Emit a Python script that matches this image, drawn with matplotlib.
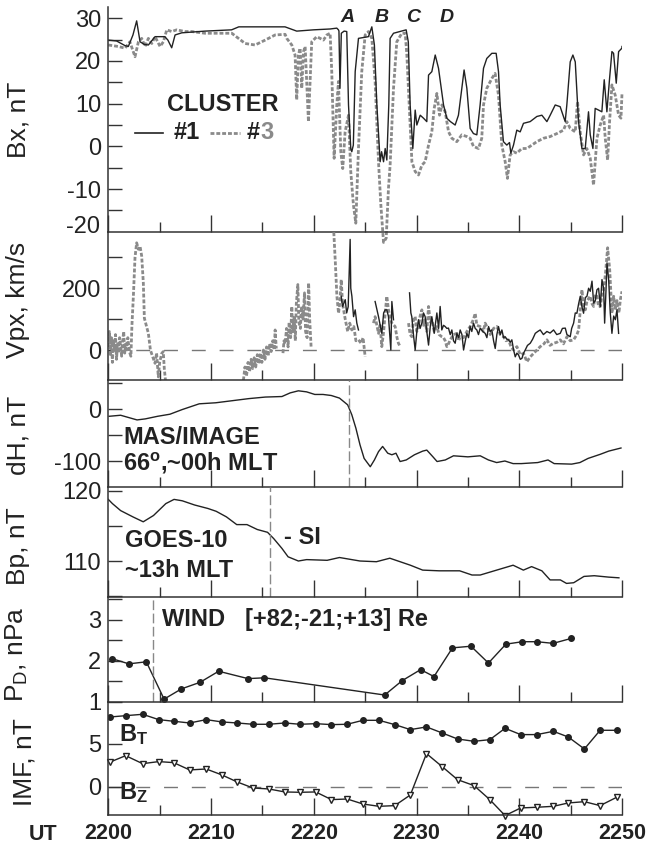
import numpy as np
import matplotlib
matplotlib.use("Agg")
import matplotlib.pyplot as plt

plt.rcParams['font.family'] = ['Liberation Sans', 'DejaVu Sans']
plt.rcParams['mathtext.fontset'] = 'custom'
plt.rcParams['mathtext.rm'] = 'Liberation Sans'
plt.rcParams['mathtext.bf'] = 'Liberation Sans:bold'
plt.rcParams['mathtext.it'] = 'Liberation Sans:italic'

nan = np.nan

# ---- CLUSTER Bx (minutes after 2200 UT) ----
bx1_t = [0.0, 0.8, 1.63, 1.95, 2.4, 2.76, 3.09, 3.5, 3.9, 4.55, 5.5, 5.8, 6.17, 6.5, 7.15, 9.4, 12.0, 12.7,
         17.2, 18.34, 19.97, 21.59, 22.24, 22.4, 22.45, 22.55, 22.68, 22.95, 23.21, 23.38, 23.6, 23.7, 23.85,
         24.03, 24.35, 25.32, 25.65, 25.9, 26.14, 26.46, 26.6, 26.79, 26.95, 27.11, 27.3, 27.43, 27.76, 28.99,
         29.2, 29.38, 29.64, 29.87, 30.03, 30.36, 30.68, 31.0, 31.17, 31.49, 31.82, 32.14, 32.63, 32.95, 33.3,
         33.76, 34.08, 34.41, 34.63, 34.9, 35.22, 35.54, 35.87, 36.19, 36.52, 36.84, 37.33, 37.75, 37.98, 38.14,
         38.46, 38.79, 39.05, 39.18, 39.44, 39.76, 40.09, 40.41, 41.06, 41.71, 42.2, 42.69, 43.01, 43.5, 43.98,
         44.47, 44.63, 44.96, 45.22, 45.45, 45.77, 46.1, 46.42, 46.74, 46.91, 47.17, 47.39, 47.72, 48.04, 48.27,
         48.53, 48.79, 49.02, 49.18, 49.44, 49.67, 49.99, 50.0]
bx1_v = [24.9, 24.7, 23.6, 23.4, 26.1, 29.4, 24.5, 23.9, 23.75, 25.7, 25.7, 24.9, 23.1, 26.1, 26.6, 27.0, 27.3, 28.0,
         28.0, 27.0, 27.3, 27.5, 27.7, 27.3, 27.0, 13.6, 26.5, 27.0, 26.9, 9.7, -0.5, -1.25, 0.3,
         17.5, 25.3, 25.7, 28.0, 23.75, 9.7, -3.6, -1.25, -3.6, -0.5, -3.2, 9.7, 25.3, 26.5, 27.3,
         24.5, 9.7, -0.5, 8.5, 5.0, 7.3, 6.6, 5.8, 16.7, 17.5, 21.4, 18.3, 9.7, 6.6, 5.8,
         5.0, 7.3, 13.6, 17.9, 13.6, 4.2, 3.0, 2.7, 9.7, 18.3, 20.6, 21.8, 21.8, 17.5, 9.7,
         1.1, 0.3, 0.9, -1.6, 0.3, 3.8, 3.4, 5.4, 5.8, 7.0, 7.3, 5.8, 7.3, 9.7, 9.3,
         5.8, 9.7, 19.8, 21.4, 19.8, 5.8, -0.5, -0.5, 8.1, 2.7, -0.5, 8.9, 8.5, 8.1, 15.6,
         8.1, 15.9, 22.2, 21.8, 14.8, 22.2, 23.0, 23.4]

bx3_t = [0.0, 0.98, 1.63, 2.1, 2.6, 2.93, 3.25, 3.58, 3.9, 4.23, 4.55, 5.04, 5.36, 5.69, 6.17, 6.66, 7.47, 8.12,
         9.42, 12.02, 12.67, 13.32, 14.29, 15.27, 16.24, 17.21, 17.37, 17.86, 18.18, 18.34, 18.5, 18.67, 18.83,
         19.0, 19.16, 19.48, 19.8, 20.29, 20.94, 21.27, 21.59, 21.75, 21.98, 22.24, 22.4, 22.63, 22.82, 23.05,
         23.38, 23.6, 23.86, 24.09, 24.35, 24.67, 25.0, 25.32, 25.65, 25.97, 26.3, 26.53, 26.79, 27.05, 27.27,
         27.43, 27.76, 28.08, 28.57, 28.9, 29.06, 29.38, 29.55, 29.87, 30.19, 30.52, 30.84, 31.17, 31.49, 31.72,
         31.98, 32.24, 32.47, 32.79, 33.12, 33.44, 33.92, 34.41, 34.9, 35.22, 35.54, 36.03, 36.35, 36.52, 36.84,
         37.33, 37.65, 37.98, 38.3, 38.63, 38.85, 39.11, 39.44, 39.76, 40.25, 40.74, 41.22, 41.71, 42.36, 43.01,
         43.66, 44.31, 44.63, 44.96, 45.45, 45.67, 45.93, 46.26, 46.58, 46.91, 47.23, 47.56, 47.88, 48.21, 48.37,
         48.6, 48.79, 49.02, 49.34, 49.67, 49.9, 50.0]
bx3_v = [23.75, 23.4, 23.0, 24.5, 21.0, 24.5, 25.3, 23.4, 25.3, 24.1, 25.7, 23.4, 24.5, 27.3, 26.9, 27.3, 26.9, 26.9,
         26.5, 26.5, 25.3, 24.1, 23.75, 24.9, 26.1, 26.25, 25.3, 23.75, 21.4, 10.9, 21.4, 23.0, 13.6,
         22.2, 23.4, 5.8, 24.5, 25.7, 24.9, 26.1, 26.5, 17.5, -2.8, 9.7, 15.2, -1.25, -5.2, 3.4,
         7.3, -5.9, -13.75, -18.0, -0.5, 17.5, 26.1, 26.9, 25.3, 15.2, -3.6, -13.75, -22.5, -21.5, -9.8,
         -4.4, 13.6, 24.5, 26.5, 26.5, 21.4, 5.0, -3.6, -5.9, -6.7, -4.4, -3.6, 0.3, 3.4, 8.9,
         12.4, 7.3, 9.7, 8.1, 3.4, 1.9, 1.1, 2.7, 2.3, 1.9, 0.0, -0.5, 1.9, 9.7, 13.6,
         15.9, 17.1, 12.0, 0.3, -3.6, -7.5, -2.0, -1.25, -1.6, -0.5, -0.5, 0.3, 1.1, 1.9, 2.3,
         3.0, 3.8, 5.8, 4.2, 3.4, 10.5, 3.4, -2.0, -0.5, -2.8, -9.1, 1.9, 5.0, 7.3, 1.9,
         -3.2, 5.8, 14.4, 12.0, 7.3, 6.6, 12.4]

# ---- CLUSTER Vpx (km/s), nan = data gap ----
vp1_t = [22.67, 22.8, 23.06, 23.2, 23.35, 23.54, 23.6, 23.71, 23.87, 24.03, 24.19, 24.35, nan,
         25.97, 26.15, 26.3, 26.62, 26.8, 26.95, 27.11, 27.27, 27.5, 27.6, 27.76, nan,
         29.32, 29.45, 29.54, 29.7, 29.87, 30.03, 30.19, 30.35, 30.52, 30.68, 30.84, 31.0, 31.17, 31.35, 31.49,
         31.72, 31.98, 32.15, 32.3, 32.46, 32.63, 32.79, 32.95, 33.11, 33.28, 33.44, 33.6, 33.76, 33.93, 34.1,
         34.25, 34.42, 34.58, 34.75, 34.9, 35.06, 35.22, 35.38, 35.55, 35.71, 35.87, 36.03, 36.2, 36.45, 36.68,
         36.85, 37.01, 37.17, 37.33, 37.5, 37.66, 37.82, 37.98, 38.15, 38.31, 38.47, 38.63, 38.8, 38.96, 39.12,
         39.28, 39.45, 39.61, 39.77, 39.93, 40.1, 40.26, 40.42, 40.58, 40.8, 41.07, 41.3, 41.56, 41.8, 42.04,
         42.35, 42.69, 43.0, 43.34, 43.65, 43.99, 44.2, 44.48, 44.64, 44.96, 45.1, 45.29, 45.45, 45.61, 45.78,
         45.94, 46.1, 46.26, 46.43, 46.59, 46.75, 46.91, 47.08, 47.24, 47.4, 47.56, 47.72, 47.89, 48.05, 48.21,
         48.31, 48.45, 48.54, 48.7, 48.86, 49.02, 49.19, 49.35, 49.51, 49.67]
vp1_v = [174, 141, 163, 120, 140, 358, 200, 174, 108, 130, 87, 65, nan,
         157, 130, 108, 54, 120, 130, 130, 108, 0, 157, 98, nan,
         185, 120, 108, 50, 0, 60, 98, 70, 87, 120, 108, 60, 16, 80, 108,
         54, 120, 70, 141, 65, 80, 76, 70, 71, 50, 65, 30, 22, 54, 40,
         65, 50, 0, 30, 54, 40, 76, 60, 87, 70, 65, 50, 71, 60, 54,
         40, 76, 60, 65, 30, 5, 50, 76, 50, 65, 40, 43, 35, 33, 25,
         33, 0, -22, -10, -16, -30, -27, -10, 0, 15, 22, 35, 54, 60, 65,
         50, 60, 55, 65, 50, 54, 70, 71, 50, 43, 70, 87, 120, 119, 150,
         174, 140, 119, 170, 174, 200, 190, 223, 152, 160, 195, 200, 141, 228, 200,
         87, 200, 282, 228, 119, 54, 110, 98, 130, 54]

vp3_t = [0.0, 0.1, 0.2, 0.3, 0.4, 0.5, 0.6, 0.7, 0.8, 0.9, 1.0, 1.1, 1.2, 1.3, 1.4, 1.5, 1.6, 1.7, 1.8, 1.9, 2.0,
         2.1, 2.2, 2.3, 2.44, 2.6, 2.76, 2.93, 3.09, 3.25, 3.41, 3.51, 3.9, 4.1, 4.3, 4.55, 4.7, 4.87, 5.0, 5.2,
         5.35, 5.45, 5.6, nan,
         13.15, 13.3, 13.45, 13.6, 13.75, 13.9, 14.05, 14.2, 14.35, 14.5, 14.65, 14.8, 14.95, 15.1, 15.25, 15.4,
         15.55, 15.7, 15.85, 16.0, 16.15, 16.24, 16.35, nan,
         17.0, 17.1, 17.21, 17.35, 17.5, 17.6, 17.75, 17.86, 17.95, 18.1, 18.2, 18.3, 18.45, 18.55, 18.7, 18.8,
         18.95, 19.1, 19.2, 19.35, 19.5, 19.6, 19.74, nan,
         21.92, 22.1, 22.25, 22.41, 22.55, 22.67, 22.8, 23.06, 23.3, 23.5, 23.7, 23.9, 24.1, 24.35, 24.6, 24.8,
         25.0, nan,
         25.81, 25.97, 26.3, 26.45, 26.62, 26.8, 26.95, 27.11, 27.27, 27.45, 27.6, 27.92, 28.1, 28.24, 28.41, nan,
         29.22, 29.38, 29.54, 29.7, 29.87, 30.03, 30.19, 30.35, 30.52, 30.68, 30.84, 31.0, 31.17, 31.35, 31.49,
         31.72, 31.98, 32.2, 32.46, 32.63, 32.79, 32.95, 33.11, 33.28, 33.6, 33.93, 34.1, 34.25, 34.58, 34.9,
         35.22, 35.55, 35.71, 35.87, 36.2, 36.5, 36.68, 37.01, 37.17, 37.5, 37.82, 38.15, 38.47, 38.7, 38.96,
         39.2, 39.45, 39.77, 40.1, 40.42, 40.74, 41.07, 41.39, 41.7, 42.04, 42.4, 42.69, 43.0, 43.34, 43.66,
         43.99, 44.3, 44.64, 44.96, 45.29, 45.61, 45.78, 46.1, 46.26, 46.43, 46.6, 46.91, 47.08, 47.24, 47.4,
         47.56, 47.72, 47.89, 48.05, 48.21, 48.4, 48.6, 48.8, 49.02, 49.19, 49.35, 49.51, 49.7, 49.84, 50.0]
vp3_v = [10, 60, -20, 40, -40, 30, 0, 50, -30, 20, -10, 40, 10, -20, 30, 60, -10, 20, 0, 40, 10,
         -10, -20, 80, 174, 300, 347, 326, 336, 304, 217, 103, 54, 0, -20, -43, -10, -87, -40, -11,
         -5, -60, -110, nan,
         -98, -55, -85, -40, -70, -30, -60, -25, -55, -15, -45, -10, -40, 0, -30, 10,
         -20, 20, -5, 30, 0, 65, 5, nan,
         -10, 30, 20, 70, 10, 90, 40, 141, 60, 110, 30, 150, 212, 90, 70, 141,
         100, 185, 60, 40, 217, 100, 10, nan,
         400, 282, 174, 119, 160, 228, 150, 100, 60, 87, 65, 76, 30, 33, 22, 40,
         -22, nan,
         87, 108, 54, 80, 11, 60, 119, 174, 130, 100, 87, 76, 40, 22, 11, nan,
         87, 50, 43, 100, 108, 60, 76, 110, 130, 80, 98, 60, 141, 90, 98,
         60, 76, 50, 43, 40, 30, 11, 20, 33, 50, 54, 30, 43, 40, 60,
         76, 100, 119, 80, 76, 60, 87, 65, 50, 70, 76, 50, 43, 30, 33,
         10, 0, 11, -15, -11, -38, -22, -11, 0, 11, 20, 33, 15, 22, 25,
         33, 20, 43, 30, 33, 50, 65, 195, 140, 130, 160, 174, 150, 141, 180,
         174, 140, 141, 180, 195, 250, 331, 261, 119, 174, 130, 160, 120, 163, 190]

# ---- MAS/IMAGE dH ----
dh_t = [0.08, 1.2, 2.8, 3.6, 4.8, 6.0, 7.2, 8.85, 10.46, 12.07, 13.68, 15.29, 16.9, 17.7, 18.5, 19.3, 20.1, 20.9,
        21.7, 22.5, 23.3, 23.7, 24.1, 24.5, 24.9, 25.5, 25.9, 26.3, 26.7, 27.2, 27.6, 28.0, 28.4, 29.0, 29.8,
        30.6, 31.0, 31.6, 32.0, 32.8, 33.6, 35.0, 36.2, 37.0, 37.8, 38.6, 39.4, 40.2, 41.8, 42.8, 43.4, 45.1,
        45.9, 46.7, 47.9, 48.7, 49.9]
dh_v = [-14, -12, -21, -19, -14, -10, -1, 10, 12, 16, 20, 23, 24, 31, 35, 33, 28, 28,
        26, 21, 8, -11, -37, -69, -95, -111, -98, -82, -72, -85, -88, -85, -101, -98, -88,
        -81, -79, -92, -101, -98, -90, -92, -90, -98, -103, -100, -105, -105, -103, -98, -105, -106,
        -103, -95, -87, -81, -75]

# ---- GOES-10 Bp ----
bp_t = [0.0, 0.4, 1.2, 2.4, 3.4, 4.4, 5.6, 6.4, 7.2, 8.4, 9.7, 10.5, 11.5, 12.5, 13.5, 14.5, 15.5, 16.1, 16.9, 17.5,
        18.5, 19.3, 21.3, 22.5, 23.3, 24.5, 26.1, 27.4, 28.2, 29.4, 30.6, 32.2, 34.2, 35.4, 36.2, 37.8, 39.4,
        40.4, 41.2, 42.2, 43.0, 44.0, 44.6, 45.3, 46.3, 47.3, 48.7, 49.7]
bp_v = [118.8, 118.2, 117.2, 116.3, 115.6, 116.5, 118.2, 118.8, 118.6, 118.0, 117.5, 117.1, 116.3, 115.2, 115.2, 114.5,
        114.1, 113.2, 111.8, 110.6, 110.0, 110.2, 110.1, 110.5, 110.3, 110.0, 109.9, 110.4, 110.0, 109.4, 108.7,
        108.6, 108.6, 108.0, 108.0, 108.7, 109.4, 108.7, 109.2, 108.6, 107.3, 107.3, 106.8, 106.9, 107.8, 107.9,
        107.7, 107.6]

# ---- WIND dynamic pressure ----
pd_t = [0.32, 2.0, 3.7, 5.43, 7.12, 8.93, 10.74, 13.6, 15.2, 26.9, 28.6, 30.4, 31.7, 33.5, 35.3, 37.0, 38.7,
        40.3, 41.7, 43.3, 45.05]
pd_v = [2.06, 1.93, 1.98, 1.07, 1.32, 1.48, 1.75, 1.57, 1.59, 1.17, 1.52, 1.79, 1.62, 2.32, 2.36, 1.95, 2.41,
        2.47, 2.47, 2.43, 2.55]

# ---- WIND IMF ----
imf_t = [0.2, 1.69, 3.34, 4.91, 6.36, 7.92, 9.53, 11.06, 12.55, 14.08, 15.61, 17.18, 18.66, 20.19, 21.72, 23.25,
         24.78, 26.35, 27.88, 29.4, 30.97, 32.5, 33.99, 35.6, 37.13, 38.62, 40.14, 41.71, 43.32, 44.77, 46.34,
         47.87, 49.48]
bt_v = [8.14, 8.29, 8.45, 7.83, 7.64, 7.44, 7.83, 7.56, 7.44, 7.29, 7.29, 7.44, 7.29, 7.36, 7.25, 7.29, 7.75, 7.75,
        7.25, 6.67, 6.98, 6.28, 5.58, 5.31, 5.5, 6.82, 6.09, 6.09, 6.47, 5.81, 4.42, 6.59, 6.59]
bz_v = [2.91, 3.64, 2.71, 2.95, 2.83, 1.98, 2.09, 1.40, 0.58, -0.12, -0.23, -0.58, -0.62, -0.58, -1.47, -1.40,
        -1.98, -2.25, -2.17, -0.93, 3.88, 2.36, 0.85, 0.16, -1.47, -3.33, -2.44, -2.36, -2.25, -1.86, -1.71,
        -2.17, -1.2]

ut_ticks = [0, 10, 20, 30, 40, 50]
ut_labels = ['2200', '2210', '2220', '2230', '2240', '2250']

GRAY = '#8a8a8a'
INK = '#222222'
W, H = 649, 850
NOTE = 17  # size of the bold notes inside panels


def panel(fig, top, bottom):
    ax = fig.add_axes([108.3 / W, 1 - bottom / H, 513.7 / W, (bottom - top) / H])
    ax.set_facecolor('none')
    for s in ['top', 'right']:
        ax.spines[s].set_visible(False)
    for s in ['left', 'bottom']:
        ax.spines[s].set_linewidth(1.1)
        ax.spines[s].set_color('#333333')
    ax.set_xlim(0, 50)
    ax.set_xticks(ut_ticks)
    ax.set_xticks(np.arange(5, 50, 10), minor=True)
    ax.tick_params(axis='x', which='major', direction='in', length=12.5, width=1.0, color='#333333',
                   labelbottom=False)
    ax.tick_params(axis='x', which='minor', direction='in', length=7, width=1.0, color='#333333')
    ax.tick_params(axis='y', direction='in', length=10, width=1.0, color='#333333', labelsize=17,
                   pad=5, labelcolor=INK)
    return ax


def yaxis(ax, lim, ticks, labels, name, ypos=0.5, xpos=-0.152):
    ax.set_ylim(*lim)
    ax.set_yticks(ticks)
    ax.set_yticklabels(labels)
    ax.set_ylabel(name, fontsize=19, color=INK)
    ax.yaxis.set_label_coords(xpos, ypos)


gray_style = dict(color=GRAY, lw=2.0, linestyle=(0, (1.4, 0.7)))
zero_style = dict(color='#777777', lw=1.0, linestyle=(0, (10, 10)), zorder=0)
vline_style = dict(color='#888888', lw=1.0, linestyle=(0, (7, 2.5)))

fig = plt.figure(figsize=(6.49, 8.5), dpi=100)

# Bx
ax1 = panel(fig, 7, 232)
ax1.plot(bx3_t, bx3_v, clip_on=False, **gray_style)
ax1.plot(bx1_t, bx1_v, color=INK, lw=1.0)
yaxis(ax1, (-20.06, 32.65), [30, 25, 20, 15, 10, 5, 0, -5, -10, -15],
      ['30', '', '20', '', '10', '', '0', '', '-10', ''], 'Bx, nT')
ax1.text(-0.8, -18.8, '-20', ha='right', va='center', fontsize=17, color=INK)
for lab, tx in zip(['A', 'B', 'C', 'D'], [23.3, 26.6, 29.7, 32.95]):
    ax1.text(tx, 30.2, lab, ha='center', va='center', fontsize=14, fontweight='bold', style='italic', color=INK)
ax1.text(5.68, 9.9, 'CLUSTER', ha='left', va='center', fontsize=NOTE, fontweight='bold', color=INK)
ax1.plot([2.6, 5.3], [3.2, 3.2], color=INK, lw=1.2)
ax1.text(6.33, 3.2, '#1', ha='left', va='center', fontsize=NOTE, fontweight='bold', color=INK)
ax1.plot([9.9, 12.8], [3.2, 3.2], **gray_style)
ax1.text(13.5, 3.2, '#', ha='left', va='center', fontsize=NOTE, fontweight='bold', color=INK)
ax1.text(14.8, 3.2, '3', ha='left', va='center', fontsize=NOTE, fontweight='bold', color=GRAY)

# Vpx
ax2 = panel(fig, 232, 380)
ax2.axhline(0, **zero_style)
ax2.plot(vp3_t, vp3_v, **gray_style)
ax2.plot(vp1_t, vp1_v, color=INK, lw=1.0)
yaxis(ax2, (-97, 382), [0, 100, 200, 300], ['0', '', '200', ''], 'Vpx, km/s', ypos=0.54)

# dH
ax3 = panel(fig, 380, 487)
ax3.plot(dh_t, dh_v, color=INK, lw=1.0)
ax3.axvline(23.45, **vline_style)
yaxis(ax3, (-150, 55.8), [50, 0, -50, -100], ['', '0', '', '-100'], 'dH, nT', ypos=0.48)
ax3.text(1.5, -55, 'MAS/IMAGE', ha='left', va='center', fontsize=NOTE, fontweight='bold', color=INK)
ax3.text(1.4, -104, r'66$^{\mathbf{o}}$,~00h MLT', ha='left', va='center', fontsize=NOTE,
         fontweight='bold', color=INK)

# Bp
ax4 = panel(fig, 487, 597)
ax4.plot(bp_t, bp_v, color=INK, lw=1.0)
ax4.axvline(15.77, **vline_style)
yaxis(ax4, (104.86, 120.57), [120, 115, 110, 105], ['120', '', '110', ''], 'Bp, nT', ypos=0.46)
ax4.text(1.6, 113.0, 'GOES-10', ha='left', va='center', fontsize=NOTE, fontweight='bold', color=INK)
ax4.text(1.6, 108.7, '~13h MLT', ha='left', va='center', fontsize=NOTE, fontweight='bold', color=INK)
ax4.text(17.1, 113.3, '- SI', ha='left', va='center', fontsize=NOTE, fontweight='bold', color=INK)

# PD
ax5 = panel(fig, 597, 702)
ax5.plot(pd_t, pd_v, color=INK, lw=1.0, marker='o', ms=4)
ax5.axvline(4.34, **vline_style)
yaxis(ax5, (1.0, 3.56), [1, 1.5, 2, 2.5, 3, 3.5], ['1', '', '2', '', '3', ''], r'P$_{\mathrm{D}}$, nPa',
      ypos=0.45)
ax5.text(5.2, 3.0, 'WIND   [+82;-21;+13] Re', ha='left', va='center', fontsize=NOTE, fontweight='bold',
         color=INK)

# IMF
ax6 = panel(fig, 702, 815)
ax6.axhline(0, **zero_style)
ax6.plot(imf_t, bt_v, color=INK, lw=1.0, marker='o', ms=4)
ax6.plot(imf_t, bz_v, color=INK, lw=1.0, marker='v', ms=5, mfc='white', mec=INK, clip_on=False)
yaxis(ax6, (-3.26, 9.88), [0, 5], ['0', '5'], 'IMF, nT', ypos=0.47, xpos=-0.14)
ax6.text(1.0, 6.1, r'B$_{\mathbf{T}}$', ha='left', va='center', fontsize=NOTE, fontweight='bold', color=INK)
ax6.text(1.0, -0.7, r'B$_{\mathbf{Z}}$', ha='left', va='center', fontsize=NOTE, fontweight='bold', color=INK)
ax6.set_xticklabels(ut_labels)
ax6.tick_params(axis='x', which='major', labelbottom=True, labelsize=15.5, pad=6)
for lab in ax6.get_xticklabels():
    lab.set_fontweight('bold')
    lab.set_color(INK)
fig.text(43 / W, 1 - 834 / H, 'UT', ha='center', va='center', fontsize=15.5, fontweight='bold', color=INK)

fig.savefig('out.png', dpi=100)
